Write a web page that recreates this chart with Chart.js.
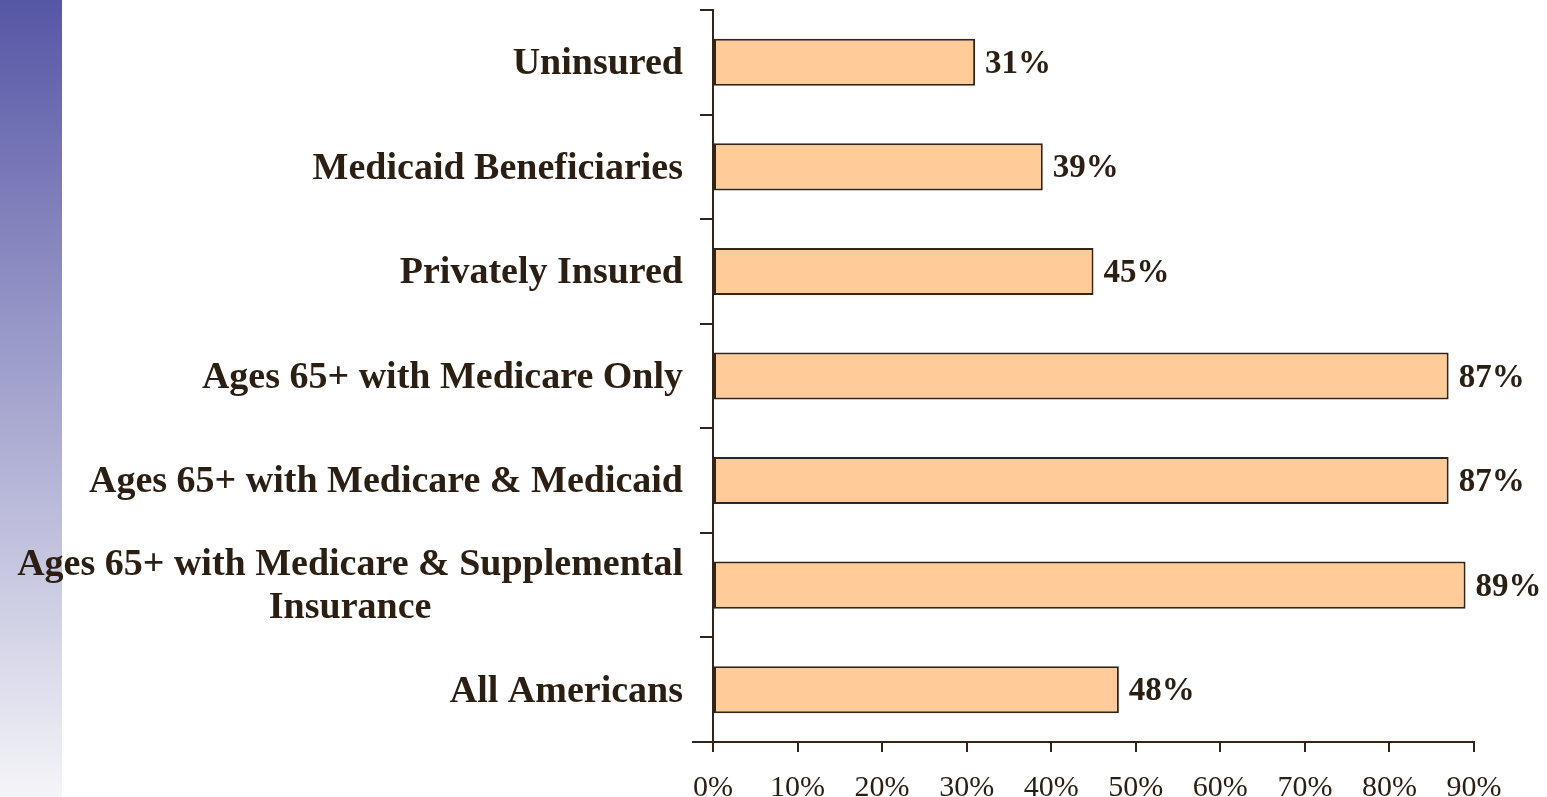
<!DOCTYPE html>
<html lang="en">
<head>
    <meta charset="UTF-8">
    <title>Coverage Chart</title>
    <style>
        body {
            margin: 0;
            background: #ffffff;
        }
        .strip {
            position: absolute;
            left: 0;
            top: 0;
            width: 62px;
            height: 797px;
            background: linear-gradient(to bottom, #5656a6, #f4f4f8);
        }
        .chart-container {
            position: absolute;
            left: 0;
            top: 0;
            width: 1547px;
            height: 797px;
        }
    </style>
</head>
<body>
    <div class="strip"></div>
    <div class="chart-container">
        <canvas id="coverageChart"></canvas>
    </div>
    <script src="https://cdn.jsdelivr.net/npm/chart.js"></script>
    <script>
        const categories = [
            ['Uninsured'],
            ['Medicaid Beneficiaries'],
            ['Privately Insured'],
            ['Ages 65+ with Medicare Only'],
            ['Ages 65+ with Medicare & Medicaid'],
            ['Ages 65+ with Medicare & Supplemental', 'Insurance'],
            ['All Americans']
        ];
        const percentValues = [31, 39, 45, 87, 87, 89, 48];
        const xTickValues = [0, 10, 20, 30, 40, 50, 60, 70, 80, 90];

        const textColor = '#2b1e12';
        const lineColor = '#33241a';

        // category labels and value labels, drawn from the scales
        const labelPlugin = {
            id: 'labelPlugin',
            afterDatasetsDraw(chart) {
                const ctx = chart.ctx;
                const xScale = chart.scales.x;
                const yScale = chart.scales.y;
                const meta = chart.getDatasetMeta(0);
                ctx.save();
                ctx.fillStyle = textColor;
                ctx.textBaseline = 'middle';

                // y labels
                ctx.font = 'bold 38px "Liberation Serif", "Times New Roman", serif';
                ctx.textAlign = 'center';
                const rightX = xScale.left - 30;
                const lineH = 43;
                categories.forEach((lines, i) => {
                    const cy = yScale.getPixelForValue(i) + 2;
                    const widest = Math.max(...lines.map(l => ctx.measureText(l).width));
                    const startY = cy - (lines.length - 1) * lineH / 2;
                    lines.forEach((l, j) => {
                        ctx.fillText(l, rightX - widest / 2, startY + j * lineH);
                    });
                });

                // value labels
                ctx.font = 'bold 33px "Liberation Serif", "Times New Roman", serif';
                ctx.textAlign = 'left';
                meta.data.forEach((bar, i) => {
                    ctx.fillText(percentValues[i] + '%', bar.x + 10, bar.y + 2);
                });

                // axis line extends left past the y axis
                ctx.strokeStyle = lineColor;
                ctx.lineWidth = 2;
                ctx.beginPath();
                ctx.moveTo(xScale.left - 21, xScale.top);
                ctx.lineTo(xScale.left, xScale.top);
                ctx.stroke();
                ctx.restore();
            }
        };

        const ctx = document.getElementById('coverageChart').getContext('2d');
        new Chart(ctx, {
            type: 'bar',
            data: {
                labels: categories.map(c => c.join(' ')),
                datasets: [{
                    data: percentValues,
                    backgroundColor: '#ffcc99',
                    borderColor: lineColor,
                    borderWidth: 2,
                    borderSkipped: false,
                    categoryPercentage: 1,
                    barPercentage: 0.45
                }]
            },
            options: {
                indexAxis: 'y',
                responsive: true,
                maintainAspectRatio: false,
                animation: false,
                layout: {
                    padding: { top: 10, right: 73, left: 0, bottom: 0 }
                },
                plugins: {
                    legend: { display: false },
                    tooltip: { enabled: false }
                },
                scales: {
                    x: {
                        min: 0,
                        max: 90,
                        afterFit: scale => { scale.height = 55; },
                        afterBuildTicks: scale => {
                            scale.ticks = xTickValues.map(v => ({ value: v }));
                        },
                        border: { color: lineColor, width: 2 },
                        grid: {
                            drawOnChartArea: false,
                            drawTicks: true,
                            tickLength: 10,
                            color: lineColor,
                            lineWidth: 2
                        },
                        ticks: {
                            padding: 18,
                            color: textColor,
                            maxRotation: 0,
                            font: { family: '"Liberation Serif", "Times New Roman", serif', size: 30 },
                            callback: v => v + '%'
                        }
                    },
                    y: {
                        afterFit: scale => { scale.width = 713; },
                        border: { color: lineColor, width: 2 },
                        grid: {
                            drawOnChartArea: false,
                            drawTicks: true,
                            tickLength: 13,
                            color: lineColor,
                            lineWidth: 2
                        },
                        ticks: { display: false }
                    }
                }
            },
            plugins: [labelPlugin]
        });
    </script>
</body>
</html>
